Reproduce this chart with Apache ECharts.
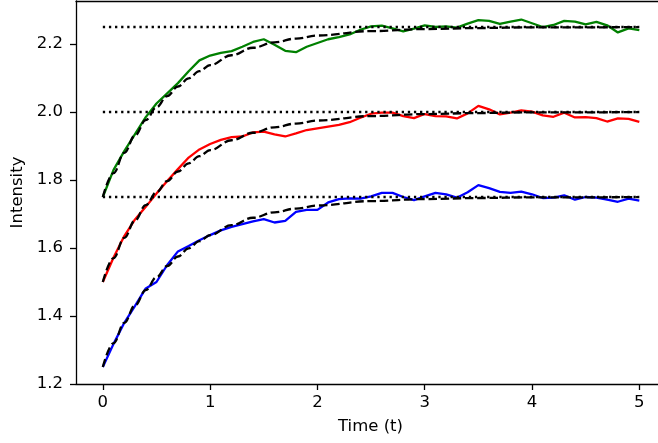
<!DOCTYPE html>
<html>
<head>
<meta charset="utf-8">
<script src="https://cdn.jsdelivr.net/npm/echarts@6/dist/echarts.min.js"></script>
<style>html,body{margin:0;padding:0;background:#fff}#c{width:658px;height:443px}</style>
</head>
<body>
<div id="c"></div>
<script>
const timeGrid = [0,0.1,0.2,0.3,0.4,0.5,0.6,0.7,0.8,0.9,1.0,1.1,1.2,1.3,1.4,1.5,1.6,1.7,1.8,1.9,2.0,2.1,2.2,2.3,2.4,2.5,2.6,2.7,2.8,2.9,3.0,3.1,3.2,3.3,3.4,3.5,3.6,3.7,3.8,3.9,4.0,4.1,4.2,4.3,4.4,4.5,4.6,4.7,4.8,4.9,5.0];
const blueNoisy = [1.25,1.318,1.38,1.43,1.481,1.50,1.55,1.59,1.606,1.623,1.638,1.652,1.662,1.670,1.678,1.685,1.675,1.680,1.706,1.712,1.712,1.734,1.744,1.746,1.745,1.752,1.762,1.762,1.750,1.741,1.752,1.762,1.758,1.748,1.764,1.785,1.776,1.765,1.762,1.766,1.758,1.747,1.748,1.755,1.742,1.750,1.748,1.742,1.736,1.745,1.739];
const redNoisy = [1.50,1.572,1.635,1.684,1.721,1.76,1.797,1.832,1.866,1.89,1.906,1.918,1.926,1.928,1.940,1.942,1.934,1.928,1.937,1.947,1.952,1.957,1.962,1.970,1.983,1.995,1.998,1.998,1.988,1.982,1.994,1.988,1.987,1.981,1.996,2.018,2.008,1.993,1.998,2.005,2.001,1.990,1.986,1.998,1.984,1.985,1.982,1.972,1.981,1.980,1.971];
const greenNoisy = [1.75,1.83,1.885,1.935,1.985,2.025,2.055,2.085,2.12,2.152,2.166,2.174,2.179,2.192,2.206,2.214,2.198,2.180,2.176,2.192,2.203,2.214,2.220,2.228,2.242,2.252,2.254,2.246,2.237,2.245,2.255,2.250,2.252,2.248,2.260,2.270,2.268,2.259,2.266,2.272,2.261,2.250,2.256,2.268,2.266,2.258,2.265,2.255,2.234,2.246,2.241];

const fitTime = [0,0.1,0.2,0.3,0.4,0.5,0.6,0.7,0.8,0.9,1.0,1.2,1.4,1.6,1.8,2.0,2.5,3.0,3.5,4.0,4.5,5.0];
const blueFit = [1.25,1.320,1.380,1.431,1.476,1.514,1.547,1.575,1.599,1.620,1.638,1.667,1.689,1.705,1.716,1.725,1.738,1.744,1.747,1.749,1.749,1.750];
const redFit = [1.50,1.570,1.630,1.681,1.726,1.764,1.797,1.825,1.849,1.870,1.888,1.917,1.939,1.955,1.966,1.975,1.988,1.994,1.997,1.999,1.999,2.000];
const greenFit = [1.75,1.820,1.880,1.931,1.976,2.014,2.047,2.075,2.099,2.120,2.138,2.167,2.189,2.205,2.216,2.225,2.238,2.244,2.247,2.249,2.249,2.250];

const levelTime = [0, 5];
const levels = [1.75, 2.0, 2.25];

const xTicks = [0, 1, 2, 3, 4, 5];
const xTickLabels = ['0', '1', '2', '3', '4', '5'];
const yTicks = [1.2, 1.4, 1.6, 1.8, 2.0, 2.2];
const yTickLabels = ['1.2', '1.4', '1.6', '1.8', '2.0', '2.2'];

const FONT = 'DejaVu Sans';
const FS = 16.5;
const pairs = (xs, ys) => xs.map((x, i) => [x, ys[i]]);

const series = [];
[['#0000ff', blueNoisy], ['#ff0000', redNoisy], ['#008000', greenNoisy]].forEach(([c, d]) => {
  series.push({ type: 'line', data: pairs(timeGrid, d), showSymbol: false, symbol: 'none',
    lineStyle: { color: c, width: 2.3 }, z: 2, silent: true });
});
[blueFit, redFit, greenFit].forEach(d => {
  series.push({ type: 'line', data: pairs(fitTime, d), showSymbol: false, symbol: 'none', smooth: 0.4, smoothMonotone: 'x',
    lineStyle: { color: '#000', width: 2.3, type: [8.5, 3.7] }, z: 3, silent: true });
});
levels.forEach(v => {
  series.push({ type: 'line', data: levelTime.map(t => [t, v]), showSymbol: false, symbol: 'none',
    lineStyle: { color: '#000', width: 2.3, type: [2.3, 3.8] }, z: 4, silent: true });
});

const chart = echarts.init(document.getElementById('c'), null, { renderer: 'canvas' });
chart.setOption({
  animation: false,
  backgroundColor: '#fff',
  grid: { left: 76, right: 0, top: 1, bottom: 59, show: false },
  xAxis: [{
    type: 'value', min: -0.25, max: 5.174,
    name: 'Time (t)', nameLocation: 'middle', nameGap: 34,
    nameTextStyle: { fontFamily: FONT, fontSize: FS, color: '#000', padding: [0, 0, 0, 7] },
    axisLine: { show: true, onZero: false, lineStyle: { color: '#000', width: 1.3 } },
    axisTick: { show: true, inside: false, length: 6, lineStyle: { color: '#000', width: 1.3 }, customValues: xTicks },
    axisLabel: { show: true, margin: 10, fontFamily: FONT, fontSize: FS, color: '#000', customValues: xTicks,
      formatter: v => xTickLabels[xTicks.indexOf(Math.round(v))] },
    splitLine: { show: false }
  }, {
    type: 'value', position: 'top', min: -0.25, max: 5.174,
    axisLine: { show: true, onZero: false, lineStyle: { color: '#000', width: 1.3 } },
    axisTick: { show: false }, axisLabel: { show: false }, splitLine: { show: false }
  }],
  yAxis: {
    type: 'value', min: 1.2, max: 2.3265,
    name: 'Intensity', nameLocation: 'middle', nameGap: 48, nameRotate: 90,
    nameTextStyle: { fontFamily: FONT, fontSize: FS, color: '#000' },
    axisLine: { show: true, onZero: false, lineStyle: { color: '#000', width: 1.3 } },
    axisTick: { show: true, inside: false, length: 6, lineStyle: { color: '#000', width: 1.3 }, customValues: yTicks },
    axisLabel: { show: true, margin: 13, fontFamily: FONT, fontSize: FS, color: '#000', customValues: yTicks,
      formatter: v => yTickLabels[yTicks.findIndex(t => Math.abs(t - v) < 1e-6)] },
    splitLine: { show: false }
  },
  series: series
});
</script>
</body>
</html>
